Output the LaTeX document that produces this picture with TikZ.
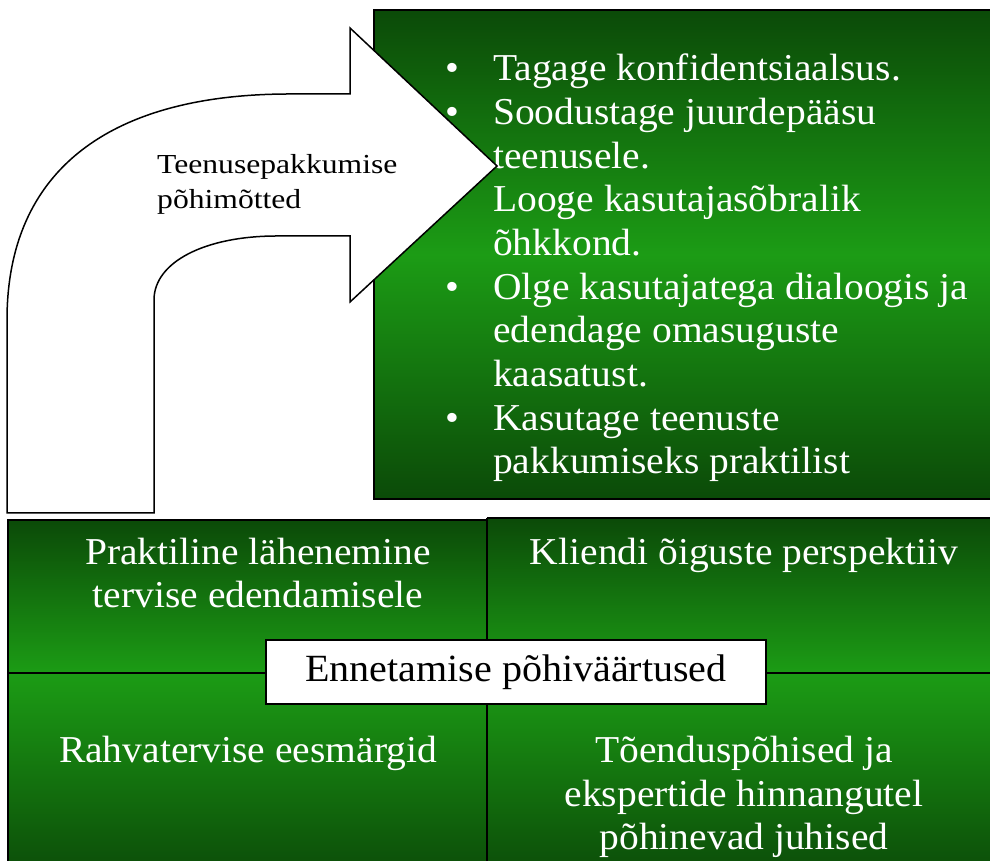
\documentclass[tikz,border=0pt]{standalone}
\usepackage{fontspec}
\setmainfont{Liberation Serif}
\newfontfamily\bigserif[FakeStretch=1.04]{Liberation Serif}
\newfontfamily\smallserif[FakeStretch=1.15]{Liberation Serif}
\definecolor{gdark}{RGB}{11,74,8}
\definecolor{gbright}{RGB}{28,156,21}
\tikzset{
  greenbox/.style={draw=black, line width=2pt},
  bigtext/.style={text=white, font=\bigserif\fontsize{38}{43.7}\selectfont, inner sep=0pt},
  quadtext/.style={bigtext, align=center, anchor=base},
  arrowshape/.style={draw=black, line width=1.5pt, fill=white, line join=miter},
  centerbox/.style={draw=black, line width=2pt, fill=white, minimum width=500pt, minimum height=64pt, inner sep=0pt,
    font=\bigserif\fontsize{38.5}{43.7}\selectfont, text=black}
}
\begin{document}
\begin{tikzpicture}[x=1pt,y=1pt]
\clip (0,0) rectangle (990,861);
\fill[white] (0,0) rectangle (990,861);

% top green box
\shade[top color=gdark, bottom color=gdark, middle color=gbright] (374,362) rectangle (1000,851);
\draw[greenbox] (1000,851) -- (374,851) -- (374,362) -- (1000,362);

% bullet list (base anchor = baseline of the last line)
\node[bigtext, anchor=base west, align=left] (list) at (493,387) {%
\llap{\textbullet\hspace{34pt}}Tagage konfidentsiaalsus.\\
\llap{\textbullet\hspace{34pt}}Soodustage juurdepääsu\\
teenusele.\\
\llap{\textbullet\hspace{34pt}}Looge kasutajasõbralik\\
õhkkond.\\
\llap{\textbullet\hspace{34pt}}Olge kasutajatega dialoogis ja\\
edendage omasuguste\\
kaasatust.\\
\llap{\textbullet\hspace{34pt}}Kasutage teenuste\\
pakkumiseks praktilist};

% bent arrow
\draw[arrowshape] (7,348) -- (7,541)
  .. controls (7,691) and (110,767) .. (290,767)
  -- (350,767) -- (350,833) -- (497,695) -- (350,559) -- (350,625) -- (277,625)
  .. controls (205,625) and (154,599) .. (154,561)
  -- (154,348) -- cycle;
\node[anchor=base west, align=left, inner sep=0pt, font=\smallserif\fontsize{27.5}{35}\selectfont] (arrowlabel) at (157,652)
  {Teenusepakkumise\\põhimõtted};

% quadrants
\shade[top color=gdark, bottom color=gbright] (8,188) rectangle (487,341);
\shade[top color=gdark, bottom color=gbright] (487,188) rectangle (1000,343);
\shade[top color=gbright, bottom color=gdark] (8,-20) rectangle (487,188);
\shade[top color=gbright, bottom color=gdark] (487,-20) rectangle (1000,188);
\draw[greenbox] (8,-20) -- (8,341) -- (487,341);
\draw[greenbox] (487,343) -- (1000,343);
\draw[greenbox] (487,-20) -- (487,343);
\draw[greenbox] (8,188) -- (1000,188);

\node[quadtext] (q1) at (258,253) {Praktiline lähenemine\\tervise edendamisele};
\node[quadtext] (q2) at (744,296) {Kliendi õiguste perspektiiv};
\node[quadtext] (q3) at (248,98) {Rahvatervise eesmärgid};
\node[quadtext] (q4) at (744,11) {Tõenduspõhised ja\\ekspertide hinnangutel\\põhinevad juhised};

\node[centerbox] (core) at (516,189) {Ennetamise põhiväärtused};
\end{tikzpicture}
\end{document}
